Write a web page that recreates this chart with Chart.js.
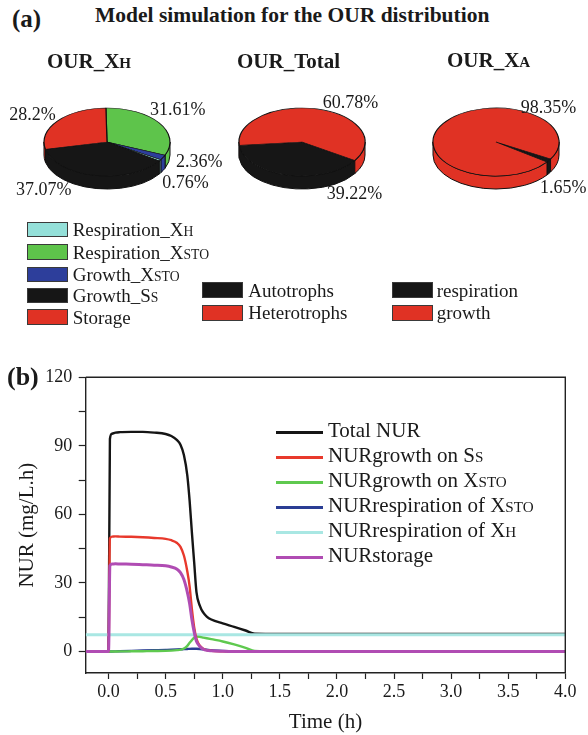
<!DOCTYPE html>
<html>
<head>
<meta charset="utf-8">
<script src="https://cdn.jsdelivr.net/npm/chart.js@4.4.1/dist/chart.umd.min.js"></script>
<style>
  html, body { margin: 0; padding: 0; background: #fff; }
  #fig { position: relative; width: 588px; height: 735px; overflow: hidden;
         font-family: 'Liberation Serif', 'Times New Roman', serif; color: #1a1a1a; }
  .t { position: absolute; white-space: nowrap; line-height: 1; }
  .b { font-weight: bold; }
  .sc { font-size: 0.72em; }
  canvas { position: absolute; }
  .sw { position: absolute; box-sizing: border-box; border: 1px solid #3a3a3a; }
  .ln { position: absolute; height: 3px; }
</style>
</head>
<body>
<div id="fig"></div>
<script>
// ---------- OUR distribution (pie shares, %) ----------
// slices are listed in clockwise drawing order; each name is [text, small-caps suffix]
const xhSlices = [['Respiration_X', 'STO'], ['Growth_X', 'STO'], ['Respiration_X', 'H'], ['Growth_S', 'S'], ['Storage', '']];
const xhShares = [31.61, 2.36, 0.76, 37.07, 28.2];
const xhLegendOrder = [2, 0, 1, 3, 4];

const totalSlices = [['Autotrophs', ''], ['Heterotrophs', '']];
const totalShares = [39.22, 60.78];

const xaSlices = [['respiration', ''], ['growth', '']];
const xaShares = [1.65, 98.35];

// ---------- NUR time courses (mg/L.h) ----------
const hours = [-0.2, 0, 0.012, 0.03, 0.06, 0.1, 0.2, 0.3, 0.4, 0.5, 0.55, 0.6, 0.63, 0.66, 0.69, 0.71,
               0.73, 0.75, 0.77, 0.8, 0.83, 0.86, 0.9, 1.0, 1.1, 1.2, 1.28, 1.5, 2.0, 2.5, 3.0, 3.5, 4.0];
const nurTotal = [0, 0, 93, 95.3, 95.8, 96, 96.1, 96.1, 95.8, 95.2, 94.3, 92.5, 90.5, 86, 77, 66,
                  52, 39, 26, 20, 17, 15.3, 14, 12.3, 10.8, 9.2, 7.8, 7.7, 7.7, 7.7, 7.7, 7.7, 7.7];
const nurGrowthSs = [0, 0, 49.5, 50.3, 50.4, 50.3, 50.2, 50, 49.7, 49.3, 48.7, 47.5, 45.8, 42, 35, 28.5,
                     18.5, 10.5, 5.5, 2.5, 1.2, 0.6, 0.3, 0.1, 0, 0, 0, 0, 0, 0, 0, 0, 0];
const nurGrowthSto = [0, 0, 0, 0, 0.02, 0.05, 0.1, 0.15, 0.2, 0.3, 0.4, 0.6, 0.8, 1.3, 2.5, 3.8,
                      5, 6, 6.5, 6.4, 6.1, 5.8, 5.4, 4.4, 3.1, 1.6, 0.2, 0, 0, 0, 0, 0, 0];
const nurRespSto = [0, 0, 0, 0.02, 0.06, 0.12, 0.27, 0.42, 0.57, 0.72, 0.8, 0.9, 0.97, 1.05, 1.12, 1.17,
                    1.2, 1.22, 1.2, 1.1, 0.95, 0.8, 0.6, 0.3, 0.1, 0.03, 0, 0, 0, 0, 0, 0, 0];
const nurRespXh = [7.3, 7.3, 7.3, 7.3, 7.3, 7.3, 7.3, 7.3, 7.3, 7.3, 7.3, 7.3, 7.3, 7.3, 7.3, 7.3,
                   7.3, 7.3, 7.3, 7.3, 7.3, 7.3, 7.3, 7.3, 7.3, 7.3, 7.3, 7.3, 7.3, 7.3, 7.3, 7.3, 7.3];
const nurStorage = [0, 0, 37.5, 38.3, 38.4, 38.3, 38.2, 38, 37.8, 37.5, 37, 36, 34.5, 31.5, 26, 21,
                    14, 8.5, 4.5, 2.2, 1, 0.5, 0.3, 0.1, 0, 0, 0, 0, 0, 0, 0, 0, 0];
const seriesNames = [['Total NUR', ''], ['NURgrowth on S', 'S'], ['NURgrowth on X', 'STO'],
                     ['NURrespiration of X', 'STO'], ['NURrespiration of X', 'H'], ['NURstorage', '']];
const seriesValues = [nurTotal, nurGrowthSs, nurGrowthSto, nurRespSto, nurRespXh, nurStorage];

// axis ticks (every tick gets a mark; only the listed ones get a label)
const timeTicks = [0, 0.25, 0.5, 0.75, 1.0, 1.25, 1.5, 1.75, 2.0, 2.25, 2.5, 2.75, 3.0, 3.25, 3.5, 3.75, 4.0];
const timeLabels = ['0.0', '', '0.5', '', '1.0', '', '1.5', '', '2.0', '', '2.5', '', '3.0', '', '3.5', '', '4.0'];
const nurTicks = [0, 15, 30, 45, 60, 75, 90, 105, 120];
const nurLabels = ['0', '', '30', '', '60', '', '90', '', '120'];

// ---------- styling ----------
const FONT = "'Liberation Serif', 'Times New Roman', serif";
const INK = '#1a1a1a';
const xhColors = ['#5ec44b', '#2d3e9b', '#94e0d9', '#161616', '#e03224'];
const totalColors = ['#161616', '#e03224'];
const xaColors = ['#161616', '#e03224'];
const seriesColors = ['#151515', '#e8392c', '#5fc94f', '#2a3d94', '#a9e7e3', '#b04cb3'];
const seriesWidths = [2.4, 2.4, 2.4, 2.4, 3, 3];
const seriesLayer = [5, 1, 2, 3, 4, 0];   // lower = drawn later (on top)

const fig = document.getElementById('fig');

function rich(parts) {
  return parts[0] + (parts[1] ? '<span class="sc">' + parts[1] + '</span>' : '');
}
// place text with its baseline at y = base
function put(html, x, base, size, bold) {
  const d = document.createElement('div');
  d.className = 't' + (bold ? ' b' : '');
  d.innerHTML = html;
  d.style.fontSize = size + 'px';
  d.style.left = x + 'px';
  d.style.top = (base - 0.8375 * size) + 'px';
  fig.appendChild(d);
  return d;
}
function box(cls, x, y, w, h, color) {
  const d = document.createElement('div');
  d.className = cls;
  Object.assign(d.style, { left: x + 'px', top: y + 'px', width: w + 'px', height: h + 'px', background: color });
  fig.appendChild(d);
}

// ---------- panel (a): tilted pies ----------
const tiltPlugin = {
  id: 'tilt',
  beforeDatasetsDraw(chart, args, opts) {
    const ctx = chart.ctx;
    const arcs = chart.getDatasetMeta(0).data;
    const cx = arcs[0].x, cy = arcs[0].y, r = arcs[0].outerRadius;
    const ry = r * opts.squash;
    // rim: only the front half (canvas angles 0..PI) faces the viewer
    arcs.forEach(arc => {
      for (let k = -1; k <= 2; k++) {
        const a0 = Math.max(arc.startAngle, 2 * Math.PI * k);
        const a1 = Math.min(arc.endAngle, 2 * Math.PI * k + Math.PI);
        if (a1 <= a0) continue;
        ctx.beginPath();
        ctx.ellipse(cx, cy, r, ry, 0, a0, a1);
        ctx.ellipse(cx, cy + opts.depth, r, ry, 0, a1, a0, true);
        ctx.closePath();
        ctx.fillStyle = arc.options.backgroundColor;
        ctx.fill();
        ctx.lineWidth = 1;
        ctx.strokeStyle = '#111';
        ctx.stroke();
      }
    });
    ctx.save();
    ctx.translate(cx, cy);
    ctx.scale(1, opts.squash);
    ctx.translate(-cx, -cy);
  },
  afterDatasetsDraw(chart) {
    chart.ctx.restore();
  }
};

function makePie(cx, cy, slices, shares, colors, rotation) {
  const c = document.createElement('canvas');
  c.width = 160; c.height = 160;
  Object.assign(c.style, { left: (cx - 80) + 'px', top: (cy - 80) + 'px', width: '160px', height: '160px' });
  fig.appendChild(c);
  new Chart(c, {
    type: 'pie',
    data: {
      labels: slices.map(s => s[0] + s[1]),
      datasets: [{ data: shares, backgroundColor: colors, borderColor: '#111', borderWidth: 1.2 }]
    },
    options: {
      responsive: false, animation: false, events: [],
      rotation: rotation,
      layout: { padding: 16.4 },
      plugins: { legend: { display: false }, tooltip: { enabled: false }, tilt: { squash: 0.54, depth: 13 } }
    },
    plugins: [tiltPlugin]
  });
}

makePie(107, 142, xhSlices, xhShares, xhColors, -1);
makePie(301.5, 142, totalSlices, totalShares, totalColors, 123);
makePie(495.5, 142, xaSlices, xaShares, xaColors, 120);

put('(a)', 12, 27, 25, true);
put('Model simulation for the OUR distribution', 95, 23.5, 21.5, true);
put(rich(['OUR_X', 'H']), 47, 69, 21, true);
put('OUR_Total', 237, 68.5, 21, true);
put(rich(['OUR_X', 'A']), 447, 68, 21, true);

// share labels
const xhLabelPos = [[150, 115], [176, 166.7], [162.3, 188.3], [16, 195], [9.3, 120]];
const totalLabelPos = [[326.7, 199.3], [322.7, 108.3]];
const xaLabelPos = [[540, 192.7], [520.7, 112.7]];
xhShares.forEach((v, i) => put(v + '%', xhLabelPos[i][0], xhLabelPos[i][1], 18));
totalShares.forEach((v, i) => put(v + '%', totalLabelPos[i][0], totalLabelPos[i][1], 18));
xaShares.forEach((v, i) => put(v + '%', xaLabelPos[i][0], xaLabelPos[i][1], 18));

// pie legends
const xhLegendBase = [236, 258.5, 281, 302, 323.5];
xhLegendOrder.forEach((idx, row) => {
  box('sw', 27, xhLegendBase[row] - 14.3, 41, 15.5, xhColors[idx]);
  put(rich(xhSlices[idx]), 72.7, xhLegendBase[row], 19);
});
const pairLegendBase = [296.7, 319.3];
totalSlices.forEach((s, i) => {
  box('sw', 201.7, pairLegendBase[i] - 14.3, 41.5, 15.5, totalColors[i]);
  put(rich(s), 248.3, pairLegendBase[i], 19);
});
xaSlices.forEach((s, i) => {
  box('sw', 392.3, pairLegendBase[i] - 14.3, 41, 15.5, xaColors[i]);
  put(rich(s), 436.7, pairLegendBase[i], 19);
});

// ---------- panel (b): NUR time courses ----------
const frame = {
  id: 'frame',
  afterDraw(chart) {
    const { ctx, chartArea: a } = chart;
    ctx.save();
    ctx.strokeStyle = '#222';
    ctx.lineWidth = 1.4;
    ctx.beginPath();
    ctx.moveTo(a.left, a.top);
    ctx.lineTo(a.right, a.top);
    ctx.lineTo(a.right, a.bottom);
    ctx.stroke();
    ctx.restore();
  }
};

const lc = document.createElement('canvas');
lc.width = 588; lc.height = 375;
Object.assign(lc.style, { left: '0px', top: '360px', width: '588px', height: '375px' });
fig.appendChild(lc);

const tickFont = { family: FONT, size: 18 };
new Chart(lc, {
  type: 'line',
  data: {
    datasets: seriesValues.map((vals, i) => ({
      label: seriesNames[i][0] + seriesNames[i][1],
      data: hours.map((t, j) => ({ x: t, y: vals[j] })),
      borderColor: seriesColors[i],
      borderWidth: seriesWidths[i],
      order: seriesLayer[i],
      fill: false
    }))
  },
  options: {
    responsive: false, animation: false, events: [],
    layout: { padding: { top: 17, right: 22.7, left: 0, bottom: 0 } },
    elements: {
      point: { radius: 0 },
      line: { cubicInterpolationMode: 'monotone', borderJoinStyle: 'round' }
    },
    plugins: { legend: { display: false }, tooltip: { enabled: false } },
    scales: {
      x: {
        type: 'linear', min: -0.2, max: 4, bounds: 'data',
        afterBuildTicks(s) { s.ticks = timeTicks.map(v => ({ value: v })); },
        afterFit(s) { s.height = 62; },
        ticks: {
          autoSkip: false, maxRotation: 0, minRotation: 0, padding: 2,
          color: INK, font: tickFont,
          callback: (v, i) => timeLabels[i]
        },
        grid: { display: true, drawOnChartArea: false, drawTicks: true, tickLength: 6, tickColor: '#222', tickWidth: 1.2 },
        border: { display: true, color: '#222', width: 1.4 },
        title: { display: true, text: 'Time (h)', color: INK, font: { family: FONT, size: 21 }, padding: { top: 0, bottom: 0 } }
      },
      y: {
        type: 'linear', min: -9.4, max: 120, bounds: 'data',
        afterBuildTicks(s) { s.ticks = nurTicks.map(v => ({ value: v })); },
        afterFit(s) { s.width = 85.7; },
        ticks: {
          autoSkip: false, padding: 6.5,
          color: INK, font: tickFont,
          callback: (v, i) => nurLabels[i]
        },
        grid: { display: true, drawOnChartArea: false, drawTicks: true, tickLength: 7, tickColor: '#222', tickWidth: 1.2 },
        border: { display: true, color: '#222', width: 1.4 },
        title: { display: true, text: 'NUR (mg/L.h)', color: INK, font: { family: FONT, size: 21 }, padding: { top: 14.4, bottom: 0 } }
      }
    }
  },
  plugins: [frame]
});

put('(b)', 7, 385.5, 26, true);

// series legend
seriesNames.forEach((n, i) => {
  const base = 437.7 + i * 25;
  box('ln', 276, base - 7, 47, 3, seriesColors[i]);
  put(rich(n), 328, base, 21);
});
</script>
</body>
</html>
